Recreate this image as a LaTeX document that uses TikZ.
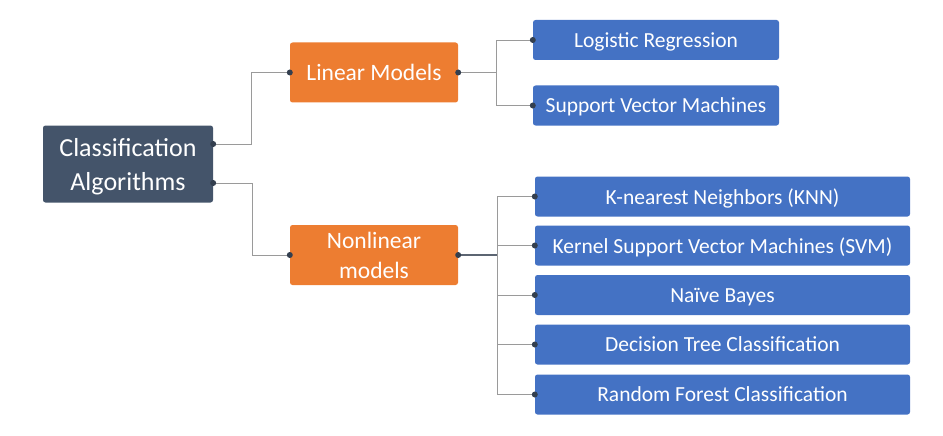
\documentclass[tikz,border=0pt]{standalone}
\usepackage{fontspec}
\setmainfont{Carlito}
\definecolor{rootc}{HTML}{44546A}
\definecolor{orangec}{HTML}{ED7D31}
\definecolor{bluec}{HTML}{4472C4}
\definecolor{linec}{HTML}{9A9A9A}
\definecolor{dotc}{HTML}{333F4F}
\tikzset{
  box/.style={rectangle, rounded corners=2.5pt, text=white, inner sep=0pt, align=center, text depth=0pt},
  rootbox/.style={box, fill=rootc, minimum width=170pt, minimum height=77pt, font=\fontsize{26}{34}\selectfont},
  midbox/.style={box, fill=orangec, minimum width=168pt, minimum height=60pt, font=\fontsize{23.5}{30}\selectfont},
  leafbox/.style={box, fill=bluec, minimum height=40pt, font=\fontsize{21.5}{24}\selectfont},
  conn/.style={draw=linec, line width=0.8pt},
  trunk/.style={draw=dotc!80, line width=1.4pt},
  dot/.style={fill=dotc, radius=3pt}
}
\begin{document}
\begin{tikzpicture}[x=1pt,y=-1pt]
\useasboundingbox (0,0) rectangle (943,436);
\node[rootbox] (root) at (128,164) {Classification\\Algorithms};
\node[midbox] (lin) at (374,72.5) {Linear Models};
\node[midbox] (non) at (374,255) {Nonlinear\\models};
\node[leafbox, minimum width=246pt] (lr) at (656,40) {Logistic Regression};
\node[leafbox, minimum width=246pt] (svm) at (656,105.5) {Support Vector Machines};
\node[leafbox, minimum width=375pt] (knn) at (722.5,196.5) {K-nearest Neighbors (KNN)};
\node[leafbox, minimum width=375pt] (kern) at (722.5,245.5) {Kernel Support Vector Machines (SVM)};
\node[leafbox, minimum width=375pt] (nb) at (722.5,295) {Naïve Bayes};
\node[leafbox, minimum width=375pt] (dt) at (722.5,344.5) {Decision Tree Classification};
\node[leafbox, minimum width=375pt] (rf) at (722.5,394.5) {Random Forest Classification};

\coordinate (r1) at ([yshift=20pt]root.east);
\coordinate (r2) at ([yshift=-19pt]root.east);
\coordinate (bl) at ([xshift=38pt]lin.east);
\coordinate (bn) at ([xshift=39pt]non.east);

\draw[conn] (r1) -- ++(38,0) |- (lin.west);
\draw[conn] (r2) -- ++(39,0) |- (non.west);
\draw[conn] (bl) |- (lr.west);
\draw[conn] (bl) |- (svm.west);
\draw[conn] (bn) |- (knn.west);
\draw[conn] (bn) |- (kern.west);
\draw[conn] (bn) |- (nb.west);
\draw[conn] (bn) |- (dt.west);
\draw[conn] (bn) |- (rf.west);
\draw[conn, line width=1.1pt] (lin.east) -- (bl);
\draw[trunk] (non.east) -- (bn);

\foreach \p in {r1,r2,lin.west,non.west,lin.east,non.east,lr.west,svm.west,knn.west,kern.west,nb.west,dt.west,rf.west}
  \fill[dot] (\p) circle;
\end{tikzpicture}
\end{document}
